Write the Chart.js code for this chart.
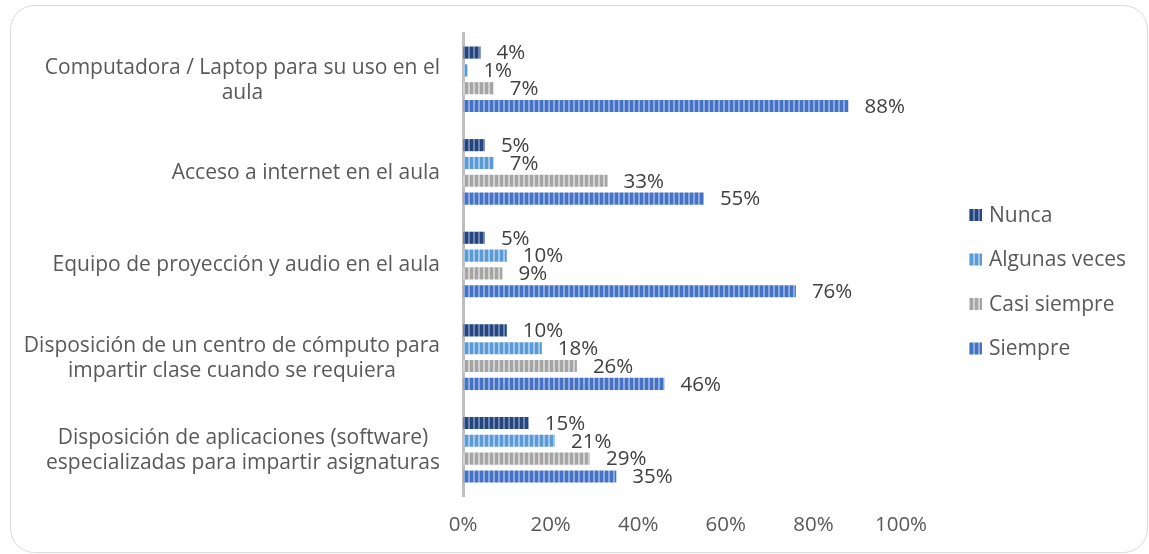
<!DOCTYPE html>
<html>
<head>
<meta charset="utf-8">
<script src="https://cdn.jsdelivr.net/npm/chart.js@4/dist/chart.umd.min.js"></script>
<style>
  html, body { margin: 0; padding: 0; background: #fff; }
  #wrap { width: 1149px; height: 554px; }
</style>
</head>
<body>
<div id="wrap"><canvas id="chart"></canvas></div>
<script>
// categories, one entry per line of the wrapped label
const categories = [
  ['Computadora / Laptop para su uso en el', 'aula'],
  ['Acceso a internet en el aula'],
  ['Equipo de proyección y audio en el aula'],
  ['Disposición de un centro de cómputo para', 'impartir clase cuando se requiera'],
  ['Disposición de aplicaciones (software)', 'especializadas para impartir asignaturas']
];
const seriesNames = ['Nunca', 'Algunas veces', 'Casi siempre', 'Siempre'];
const nunca = [4, 5, 5, 10, 15];
const algunasVeces = [1, 7, 10, 18, 21];
const casiSiempre = [7, 33, 9, 26, 29];
const siempre = [88, 55, 76, 46, 35];
const xTicks = [0, 20, 40, 60, 80, 100];

const LABEL_FONT = '21px "Open Sans"';
const VALUE_FONT = '20.5px "Open Sans"';

const canvas = document.getElementById('chart');
const ctx = canvas.getContext('2d');

// vertical stripe fill like the office chart
function stripes(base, light) {
  const c = document.createElement('canvas');
  c.width = 5; c.height = 4;
  const g = c.getContext('2d');
  g.fillStyle = base; g.fillRect(0, 0, 5, 4);
  g.fillStyle = light; g.fillRect(3, 0, 2, 4);
  return ctx.createPattern(c, 'repeat');
}

const fills = [
  stripes('#24457e', '#6f86b3'),
  stripes('#5b9bd5', '#a3c7ea'),
  stripes('#a5a5a5', '#d2d2d2'),
  stripes('#4472c4', '#8ea9de')
];
const values = [nunca, algunasVeces, casiSiempre, siempre];

const decor = {
  id: 'decor',
  beforeDraw(chart) {
    const c = chart.ctx;
    c.save();
    c.strokeStyle = '#d9d9d9';
    c.lineWidth = 1;
    c.beginPath();
    c.roundRect(10.5, 5.5, 1137, 547, 24);
    c.stroke();
    c.restore();
  },
  afterDatasetsDraw(chart) {
    const c = chart.ctx;
    c.save();
    c.font = VALUE_FONT;
    c.fillStyle = '#404040';
    c.textAlign = 'left';
    c.textBaseline = 'middle';
    chart.data.datasets.forEach((ds, i) => {
      chart.getDatasetMeta(i).data.forEach((bar, j) => {
        c.fillText(ds.data[j] + '%', bar.x + 16, bar.y + 1);
      });
    });
    c.restore();
  },
  afterDraw(chart) {
    const c = chart.ctx;
    const y = chart.scales.y;
    c.save();
    c.font = LABEL_FONT;
    c.fillStyle = '#595959';
    c.textAlign = 'center';
    c.textBaseline = 'middle';
    // category labels: block right aligned, lines centred inside it
    categories.forEach((lines, i) => {
      const w = Math.max(...lines.map(l => c.measureText(l).width));
      const cx = 440 - w / 2;
      const yc = y.getPixelForValue(i);
      lines.forEach((l, k) => {
        c.fillText(l, cx, yc + 1 + (k - (lines.length - 1) / 2) * 25);
      });
    });
    // legend
    c.textAlign = 'left';
    chart.data.datasets.forEach((ds, i) => {
      const ly = 215 + i * 44.5;
      c.fillStyle = ds.backgroundColor;
      c.fillRect(969, ly - 6, 13, 12);
      c.fillStyle = '#595959';
      c.fillText(ds.label, 989, ly + 1);
    });
    c.restore();
  }
};

new Chart(ctx, {
  type: 'bar',
  data: {
    labels: categories,
    datasets: seriesNames.map((name, i) => ({
      label: name,
      data: values[i],
      backgroundColor: fills[i],
      borderWidth: 0,
      categoryPercentage: 0.77,
      barPercentage: 0.68
    }))
  },
  options: {
    indexAxis: 'y',
    responsive: true,
    maintainAspectRatio: false,
    animation: false,
    layout: { padding: { left: 0, top: 33, right: 248, bottom: 0 } },
    scales: {
      x: {
        min: 0,
        max: 100,
        afterBuildTicks: s => { s.ticks = xTicks.map(v => ({ value: v })); },
        afterFit: s => { s.height = 58; },
        grid: { display: false, drawTicks: false },
        border: { display: false },
        ticks: {
          padding: 17,
          color: '#595959',
          font: { family: 'Open Sans', size: 20.5 },
          callback: v => v + '%'
        }
      },
      y: {
        afterFit: s => { s.width = 463; },
        grid: { display: false, drawTicks: false },
        border: { display: true, color: '#bfbfbf', width: 3 },
        ticks: { display: false }
      }
    },
    plugins: {
      legend: { display: false },
      tooltip: { enabled: false }
    }
  },
  plugins: [decor]
});
</script>
</body>
</html>
